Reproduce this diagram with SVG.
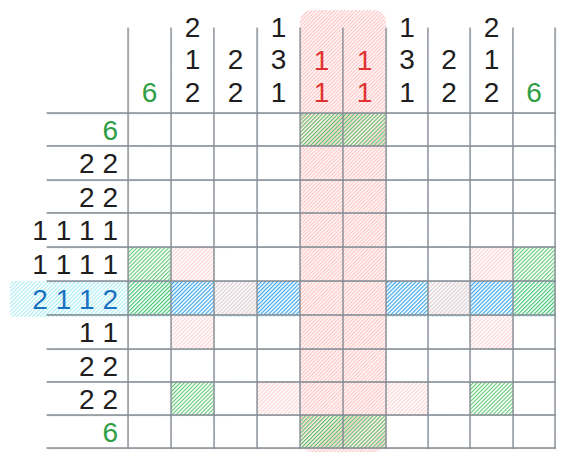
<svg xmlns="http://www.w3.org/2000/svg" width="566" height="459" viewBox="0 0 566 459">
<style>
.t{font-family:"Liberation Sans",Arial,sans-serif;font-size:28px;fill:#1e1e1e;text-anchor:middle}
.r{text-anchor:end}
.g{fill:#2f9e44}.red{fill:#e03131}.b{fill:#1971c2}
.grid line{stroke:#868e96;stroke-width:1.3;stroke-linecap:round}
.grid2 line{stroke:#868e96;stroke-width:0.8;opacity:0.55;stroke-linecap:round}
</style>
<defs>
<pattern id="pg" width="2.8" height="2.8" patternUnits="userSpaceOnUse" patternTransform="rotate(45)"><line x1="0.6" y1="0" x2="0.6" y2="2.8" stroke="#40c057" stroke-width="0.95"/></pattern>
<pattern id="pp" width="2.8" height="2.8" patternUnits="userSpaceOnUse" patternTransform="rotate(45)"><line x1="0.6" y1="0" x2="0.6" y2="2.8" stroke="#ffc9c9" stroke-width="0.95"/></pattern>
<pattern id="pr" width="2.6" height="2.6" patternUnits="userSpaceOnUse" patternTransform="rotate(45)"><line x1="1.9" y1="0" x2="1.9" y2="2.6" stroke="#ffa3a3" stroke-width="0.95" opacity="0.85"/></pattern>
<pattern id="pb" width="2.8" height="2.8" patternUnits="userSpaceOnUse" patternTransform="rotate(45)"><line x1="0.6" y1="0" x2="0.6" y2="2.8" stroke="#339af0" stroke-width="0.95"/></pattern>
<pattern id="pc" width="2.8" height="2.8" patternUnits="userSpaceOnUse" patternTransform="rotate(45)"><line x1="0.6" y1="0" x2="0.6" y2="2.8" stroke="#99e9f2" stroke-width="0.95"/></pattern>
</defs>

<g id="highlight-row6"><rect x="10" y="281" width="290" height="36" rx="4" fill="url(#pc)"/><rect x="386" y="281" width="170" height="36" fill="url(#pc)"/></g>
<g id="highlight-cols56"><rect x="300" y="10" width="86" height="442" rx="12" fill="url(#pr)"/></g>

<g id="cells">
<g id="green-cells" fill="url(#pg)">
<rect x="300" y="113" width="43" height="33"/><rect x="343" y="113" width="43" height="33"/>
<rect x="128" y="247" width="43" height="34"/><rect x="513" y="247" width="42" height="34"/>
<rect x="128" y="281" width="43" height="34"/><rect x="513" y="281" width="42" height="34"/>
<rect x="171" y="382" width="43" height="33"/><rect x="470" y="382" width="43" height="33"/>
<rect x="300" y="415" width="43" height="33"/><rect x="343" y="415" width="43" height="33"/>
</g>
<g id="pink-cells" fill="url(#pp)">
<rect x="171" y="247" width="43" height="34"/><rect x="470" y="247" width="43" height="34"/>
<rect x="214" y="281" width="43" height="34"/><rect x="428" y="281" width="42" height="34"/>
<rect x="171" y="315" width="43" height="34"/><rect x="470" y="315" width="43" height="34"/>
<rect x="257" y="382" width="43" height="33"/><rect x="386" y="382" width="42" height="33"/>
</g>
<g id="blue-cells" fill="url(#pb)">
<rect x="171" y="281" width="43" height="34"/><rect x="257" y="281" width="43" height="34"/>
<rect x="386" y="281" width="42" height="34"/><rect x="470" y="281" width="43" height="34"/>
</g>
</g>

<g id="grid">
<g class="grid">
<line x1="128" y1="28" x2="128" y2="448"/><line x1="171" y1="28" x2="171" y2="448"/>
<line x1="214" y1="28" x2="214" y2="448"/><line x1="257" y1="28" x2="257" y2="448"/>
<line x1="300" y1="28" x2="300" y2="448"/><line x1="343" y1="28" x2="343" y2="448"/>
<line x1="386" y1="28" x2="386" y2="448"/><line x1="428" y1="28" x2="428" y2="448"/>
<line x1="470" y1="28" x2="470" y2="448"/><line x1="513" y1="28" x2="513" y2="448"/>
<line x1="555" y1="28" x2="555" y2="448"/>
<line x1="47" y1="113" x2="555" y2="113"/><line x1="47" y1="146" x2="555" y2="146"/>
<line x1="47" y1="180" x2="555" y2="180"/><line x1="47" y1="213" x2="555" y2="213"/>
<line x1="47" y1="247" x2="555" y2="247"/><line x1="47" y1="281" x2="555" y2="281"/>
<line x1="47" y1="315" x2="555" y2="315"/><line x1="47" y1="349" x2="555" y2="349"/>
<line x1="47" y1="382" x2="555" y2="382"/><line x1="47" y1="415" x2="555" y2="415"/>
<line x1="47" y1="448" x2="555" y2="448"/>
</g>
<g class="grid2">
<line x1="128.8" y1="29" x2="128.3" y2="449"/><line x1="171.6" y1="29" x2="171.2" y2="449"/>
<line x1="213.4" y1="29" x2="214.5" y2="449"/><line x1="257.8" y1="29" x2="257.3" y2="449"/>
<line x1="300.7" y1="29" x2="300.2" y2="449"/><line x1="342.4" y1="29" x2="343.5" y2="449"/>
<line x1="386.7" y1="29" x2="386.2" y2="449"/><line x1="427.4" y1="29" x2="428.6" y2="449"/>
<line x1="470.7" y1="29" x2="470.2" y2="449"/><line x1="512.4" y1="29" x2="513.6" y2="449"/>
<line x1="555.7" y1="29" x2="555.2" y2="449"/>
<line x1="48" y1="113.8" x2="556" y2="113.3"/><line x1="48" y1="145.4" x2="556" y2="146.6"/>
<line x1="48" y1="180.7" x2="556" y2="180.2"/><line x1="48" y1="212.4" x2="556" y2="213.6"/>
<line x1="48" y1="247.7" x2="556" y2="247.2"/><line x1="48" y1="281.7" x2="556" y2="281.2"/>
<line x1="48" y1="314.4" x2="556" y2="315.6"/><line x1="48" y1="349.7" x2="556" y2="349.2"/>
<line x1="48" y1="381.4" x2="556" y2="382.6"/><line x1="48" y1="415.7" x2="556" y2="415.2"/>
<line x1="48" y1="448.7" x2="556" y2="448.2"/>
</g>
</g>

<g id="column-clues" class="t">
<text x="149.5" y="101.5" class="g">6</text>
<text x="192.5" y="37">2</text><text x="192.5" y="69">1</text><text x="192.5" y="101.5">2</text>
<text x="235.5" y="69">2</text><text x="235.5" y="101.5">2</text>
<text x="278.5" y="37">1</text><text x="278.5" y="69">3</text><text x="278.5" y="101.5">1</text>
<text x="321.5" y="70" class="red">1</text><text x="321.5" y="102" class="red">1</text>
<text x="364.5" y="70" class="red">1</text><text x="364.5" y="102" class="red">1</text>
<text x="407" y="37">1</text><text x="407" y="69">3</text><text x="407" y="101.5">1</text>
<text x="449" y="69">2</text><text x="449" y="101.5">2</text>
<text x="491.5" y="37">2</text><text x="491.5" y="69">1</text><text x="491.5" y="101.5">2</text>
<text x="534" y="101.5" class="g">6</text>
</g>

<g id="row-clues" class="t r">
<text x="118" y="139.5" class="g">6</text>
<text x="118" y="173">2 2</text>
<text x="118" y="206.5">2 2</text>
<text x="118" y="240">1 1 1 1</text>
<text x="118" y="274">1 1 1 1</text>
<text x="118" y="308.5" class="b">2 1 1 2</text>
<text x="118" y="342">1 1</text>
<text x="118" y="375.5">2 2</text>
<text x="118" y="408.5">2 2</text>
<text x="118" y="441.5" class="g">6</text>
</g>
</svg>
